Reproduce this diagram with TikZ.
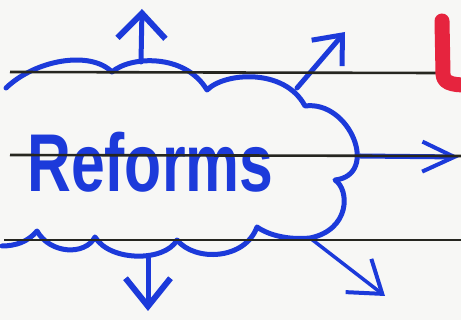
\documentclass[tikz,border=0pt]{standalone}
\usepackage{fontspec}
\setmainfont{Liberation Sans}
\usetikzlibrary{arrows.meta}
\definecolor{ink}{RGB}{28,58,218}
\definecolor{rule}{RGB}{38,38,32}
\definecolor{marker}{RGB}{230,36,62}
\definecolor{paper}{RGB}{247,247,245}
\tikzset{
  cloudline/.style={draw=ink, line width=5pt, line cap=round, line join=round},
  inkarrow/.style={draw=ink, line width=5pt, line cap=round},
  ruleline/.style={draw=rule, line width=2.6pt},
}
\begin{document}
\begin{tikzpicture}[x=1pt,y=-1pt]
\useasboundingbox (0,0) rectangle (461,320);
\fill[paper] (0,0) rectangle (461,320);

% cloud
\path[cloudline] (6,88)
  .. controls (35,60) and (90,50) .. (112,72)
  .. controls (130,56) and (185,53) .. (207,90)
  .. controls (225,72) and (285,68) .. (305,106)
  .. controls (350,100) and (380,175) .. (335,180)
  .. controls (350,190) and (350,230) .. (310,238)
  .. controls (290,240) and (270,236) .. (257,227)
  .. controls (245,260) and (195,262) .. (177,240)
  .. controls (165,262) and (110,262) .. (95,237)
  .. controls (85,256) and (50,254) .. (37,231)
  .. controls (28,242) and (15,246) .. (2,246);

\node[text=ink, anchor=base west, inner sep=0pt, font=\fontsize{82}{82}\bfseries] (word) at (27,192) {\scalebox{0.74}[1]{Reforms}};

% arrow anchors
\coordinate (sUp) at (141,62);
\coordinate (eUp) at (142,9);
\coordinate (sUR) at (297,88);
\coordinate (eUR) at (345,32);
\coordinate (sR) at (360,156);
\coordinate (eR) at (459,157);
\coordinate (sD) at (148,256);
\coordinate (eD) at (148,311);
\coordinate (sLR) at (310,238);
\coordinate (eLR) at (385,296);

\draw[inkarrow, -{Straight Barb[length=25pt, width=48pt, line width=6pt]}] (sUp) -- (eUp);
\draw[inkarrow, -{Straight Barb[length=24pt, width=40pt, line width=5pt]}] (sUR) -- (eUR);
\draw[inkarrow, -{Straight Barb[length=32pt, width=30pt, line width=4pt]}] (sR) -- (eR);
\draw[inkarrow, -{Straight Barb[length=28pt, width=45pt, line width=6pt]}] (sD) -- (eD);
\draw[inkarrow, line width=3.5pt, -{Straight Barb[length=30pt, width=42pt, line width=4pt]}] (sLR) -- (eLR);

% ruled lines
\coordinate (r1a) at (10,72);  \coordinate (r1b) at (436,73);
\coordinate (r2a) at (10,155); \coordinate (r2b) at (461,156);
\coordinate (r3a) at (4,240);  \coordinate (r3b) at (461,240);
\draw[ruleline] (r1a) -- (r1b);
\draw[ruleline] (r2a) -- (r2b);
\draw[ruleline] (r3a) -- (r3b);

% red marker stroke
\coordinate (m1) at (442,21);
\coordinate (m2) at (443,74);
\coordinate (m3) at (470,85);
\draw[draw=marker, line width=15pt, line cap=round, line join=round] (m1) -- (m2) to[out=-90,in=180] (m3);
\end{tikzpicture}
\end{document}
